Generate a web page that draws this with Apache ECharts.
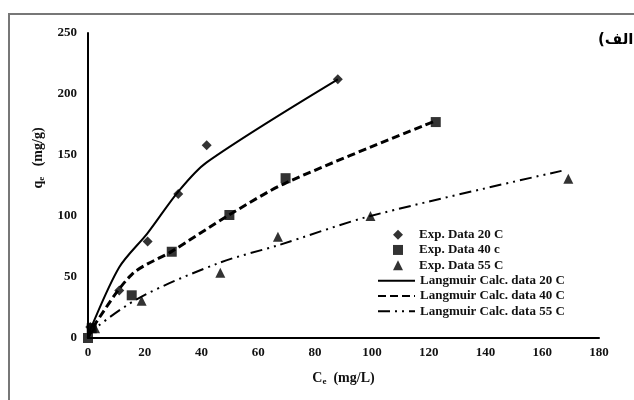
<!DOCTYPE html>
<html>
<head>
<meta charset="utf-8">
<script src="https://cdn.jsdelivr.net/npm/echarts@6/dist/echarts.min.js"></script>
<style>
  html, body { margin: 0; padding: 0; background: #fff; }
  #chart { width: 634px; height: 400px; }
</style>
</head>
<body>
<div id="chart"></div>
<script>
// Experimental equilibrium data [Ce (mg/L), qe (mg/g)]
const exp20 = [[0.8, 9], [11, 39], [21, 79], [31.8, 118], [41.8, 158], [88, 212]];
const exp40 = [[0, 0], [1.3, 8], [15.4, 35], [29.5, 70.7], [49.8, 100.8], [69.6, 131], [122.5, 177]];
const exp55 = [[2.5, 8], [18.9, 30.5], [46.6, 53.5], [66.9, 83], [99.5, 100], [169.2, 130.5]];

// Langmuir model curves [Ce, qe calc]
const calc20 = [[0, 0], [0.8, 7], [11, 58], [21, 86], [31.8, 120], [41.8, 144], [88, 212]];
const calc40 = [[0, 0], [1.5, 8], [15.4, 52], [29.5, 71], [49.8, 101], [69.6, 127], [122.5, 178]];
const calc55 = [[0, 0], [2.5, 8], [18.9, 34], [46.7, 62], [67, 76], [99.5, 100], [166.8, 137]];

// Axis ticks
const xTicks = { min: 0, max: 180, step: 20 };
const yTicks = { min: 0, max: 250, step: 50 };

const expNames = ['Exp. Data 20 C', 'Exp. Data 40 c', 'Exp. Data 55 C'];
const calcNames = ['Langmuir Calc. data 20 C', 'Langmuir Calc. data 40 C', 'Langmuir Calc. data 55 C'];

const serif = "'Liberation Serif', 'Times New Roman', serif";
const ink = '#111';
const labelStyle = { fontFamily: serif, fontWeight: 'bold', fontSize: 13, color: ink };
const legendText = { fontFamily: serif, fontWeight: 'bold', fontSize: 13, color: ink, lineHeight: 15.3 };

const chart = echarts.init(document.getElementById('chart'), null, { renderer: 'canvas' });

function lineSeries(name, data, type, width) {
  return {
    name, type: 'line', data, smooth: 0.3, symbol: 'none',
    itemStyle: { color: '#000' },
    lineStyle: { color: '#000', width, type },
    z: 2
  };
}
function scatterSeries(name, data, symbol, size) {
  return {
    name, type: 'scatter', data, symbol, symbolSize: size,
    itemStyle: { color: '#000' },
    z: 3
  };
}

const subRich = (key) => ({
  b: { fontFamily: serif, fontWeight: 'bold', fontSize: 14, [key]: ink, lineHeight: 16 },
  s: { fontFamily: serif, fontWeight: 'bold', fontSize: 9, [key]: ink, lineHeight: 10, verticalAlign: 'bottom' }
});

chart.setOption({
  animation: false,
  backgroundColor: '#fff',
  grid: { left: 88, right: 35, top: 33, bottom: 62 },
  xAxis: {
    type: 'value', min: xTicks.min, max: xTicks.max, interval: xTicks.step,
    axisLine: { lineStyle: { color: '#000', width: 2 } },
    axisTick: { show: false },
    splitLine: { show: false },
    axisLabel: Object.assign({ margin: 8 }, labelStyle),
    name: '{b|C}{s|e}{b|  (mg/L)}',
    nameLocation: 'middle',
    nameGap: 32,
    nameTextStyle: { rich: subRich('color') }
  },
  yAxis: {
    type: 'value', min: yTicks.min, max: yTicks.max, interval: yTicks.step,
    axisLine: { show: true, lineStyle: { color: '#000', width: 2 } },
    axisTick: { show: false },
    splitLine: { show: false },
    axisLabel: Object.assign({ margin: 11 }, labelStyle)
  },
  legend: [
    {
      data: expNames,
      orient: 'vertical',
      left: 393, top: 227,
      padding: 0,
      itemWidth: 10, itemHeight: 10, itemGap: 0,
      textStyle: Object.assign({ padding: [0, 0, 0, 11] }, legendText)
    },
    {
      data: calcNames,
      orient: 'vertical',
      left: 377, top: 273,
      padding: 0,
      itemWidth: 37, itemHeight: 10, itemGap: 0,
      itemStyle: { opacity: 0 },
      textStyle: legendText
    }
  ],
  graphic: [
    {
      type: 'rect', silent: true, z: -1,
      shape: { x: 9, y: 14, width: 800, height: 600 },
      style: { fill: 'none', stroke: '#777', lineWidth: 2 }
    },
    {
      type: 'text', x: 38, y: 158, rotation: Math.PI / 2,
      style: {
        text: '{b|q}{s|e}{b|   (mg/g)}',
        align: 'center', verticalAlign: 'middle',
        rich: subRich('fill')
      }
    },
    {
      type: 'text', x: 598, y: 40,
      style: {
        text: '(الف)',
        fontFamily: "'DejaVu Sans', sans-serif", fontWeight: 'bold', fontSize: 15, fill: '#000',
        align: 'left', verticalAlign: 'middle'
      }
    }
  ],
  series: [
    lineSeries(calcNames[0], calc20, 'solid', 2),
    lineSeries(calcNames[1], calc40, [8, 4], 3),
    lineSeries(calcNames[2], calc55, [12, 5, 2, 5, 2, 5], 2),
    scatterSeries(expNames[0], exp20, 'diamond', 10),
    scatterSeries(expNames[1], exp40, 'rect', 10),
    scatterSeries(expNames[2], exp55, 'triangle', 10)
  ]
});
</script>
</body>
</html>
